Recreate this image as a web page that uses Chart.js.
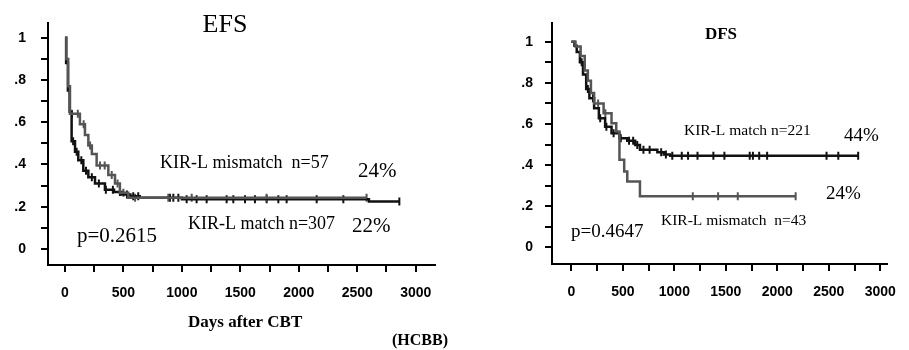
<!DOCTYPE html>
<html>
<head>
<meta charset="utf-8">
<script src="https://cdn.jsdelivr.net/npm/chart.js@4.4.1/dist/chart.umd.min.js"></script>
<style>
  body { margin: 0; background: #fff; }
  #wrap { position: relative; width: 909px; height: 350px; overflow: hidden; }
  canvas { position: absolute; top: 0; }
</style>
</head>
<body>
<div id="wrap">
  <canvas id="efsChart" width="455" height="350" style="left:0"></canvas>
  <canvas id="dfsChart" width="450" height="350" style="left:459px"></canvas>
</div>
<script>
// Axis ticks
const xTickValues = [0, 250, 500, 750, 1000, 1250, 1500, 1750, 2000, 2250, 2500, 2750, 3000];
const xLabelValues = [0, 500, 1000, 1500, 2000, 2500, 3000];
const yTickValues = [0, 0.1, 0.2, 0.3, 0.4, 0.5, 0.6, 0.7, 0.8, 0.9, 1];
const yLabelValues = [0, 0.2, 0.4, 0.6, 0.8, 1];
const yLabels = ['0', '.2', '.4', '.6', '.8', '1'];

// EFS - KIR-L match n=307
const efsMatchDays = [0, 10, 25, 40, 57, 86, 114, 157, 200, 257, 342, 420, 485, 560, 640, 1000, 2600, 2860];
const efsMatchSurv = [1, 0.88, 0.75, 0.65, 0.51, 0.46, 0.42, 0.37, 0.34, 0.31, 0.28, 0.27, 0.258, 0.25, 0.243, 0.235, 0.225, 0.225];
const efsMatchCensor = [70, 100, 140, 180, 230, 290, 350, 410, 470, 530, 584, 627, 898, 927, 970, 1041, 1126, 1212, 1383, 1440, 1540, 1625, 1725, 1825, 1896, 2153, 2381, 2860];

// EFS - KIR-L mismatch n=57
const efsMismatchDays = [0, 12, 28, 43, 128, 171, 200, 230, 271, 371, 428, 470, 541, 2580];
const efsMismatchSurv = [1, 0.9, 0.77, 0.64, 0.59, 0.54, 0.49, 0.45, 0.395, 0.35, 0.31, 0.266, 0.243, 0.243];
const efsMismatchCensor = [60, 110, 160, 215, 300, 340, 400, 450, 500, 600, 884, 1084, 1725, 2580];

// DFS - KIR-L match n=221
const dfsMatchDays = [0, 30, 52, 83, 113, 144, 175, 221, 267, 328, 390, 467, 543, 620, 666, 835, 897, 960, 2785];
const dfsMatchSurv = [1, 0.98, 0.95, 0.9, 0.84, 0.77, 0.725, 0.677, 0.628, 0.587, 0.555, 0.531, 0.518, 0.498, 0.474, 0.463, 0.452, 0.445, 0.445];
const dfsMatchCensor = [100, 160, 210, 280, 340, 410, 480, 560, 600, 640, 700, 760, 872, 918, 980, 1072, 1133, 1225, 1379, 1486, 1732, 1763, 1824, 1901, 2478, 2592, 2785];

// DFS - KIR-L mismatch n=43
const dfsMismatchDays = [0, 40, 90, 130, 160, 190, 221, 313, 390, 436, 467, 513, 543, 666, 2178];
const dfsMismatchSurv = [1, 0.977, 0.93, 0.86, 0.81, 0.75, 0.7, 0.652, 0.604, 0.563, 0.426, 0.369, 0.32, 0.248, 0.248];
const dfsMismatchCensor = [260, 330, 1179, 1425, 1616, 2178];

const MATCH_COLOR = '#111';
const MISMATCH_COLOR = '#555';

// value of the KM step curve at day t
const survAt = (days, surv, t) => {
    let v = surv[0];
    for (let i = 0; i < days.length; i++) {
        if (days[i] <= t) v = surv[i];
    }
    return v;
};

const curve = (days, surv, color) => ({
    data: days.map((d, i) => ({ x: d, y: surv[i] })),
    borderColor: color,
    borderWidth: 2.5,
    stepped: true,
    pointRadius: 0,
    fill: false
});

const censors = (times, days, surv, color) => ({
    data: times.map(t => ({ x: t, y: survAt(days, surv, t) })),
    showLine: false,
    pointStyle: 'line',
    rotation: 90,
    pointRadius: 4,
    borderWidth: 2,
    borderColor: color
});

// draws the free text on the figure
const textPlugin = {
    id: 'figText',
    afterDraw(chart, args, opts) {
        const ctx = chart.ctx;
        ctx.save();
        ctx.fillStyle = '#000';
        ctx.textBaseline = 'alphabetic';
        opts.items.forEach(t => {
            ctx.font = t.font;
            ctx.textAlign = t.align || 'left';
            ctx.fillText(t.text, t.x, t.y);
        });
        ctx.restore();
    }
};

const tickFont = { family: "'Liberation Sans', Arial, sans-serif", size: 14, weight: 'bold' };

const makeChart = (id, cfg) => {
    const ctx = document.getElementById(id).getContext('2d');
    return new Chart(ctx, {
        type: 'line',
        data: { datasets: cfg.datasets },
        options: {
            responsive: false,
            animation: false,
            layout: { padding: cfg.padding },
            plugins: {
                legend: { display: false },
                tooltip: { enabled: false },
                figText: { items: cfg.texts }
            },
            scales: {
                x: {
                    type: 'linear',
                    min: cfg.xMin,
                    max: cfg.xMax,
                    afterBuildTicks: axis => { axis.ticks = xTickValues.map(v => ({ value: v })); },
                    afterFit: scale => { scale.height = cfg.xHeight; },
                    border: { display: true, color: '#000', width: 2 },
                    grid: { display: true, drawOnChartArea: false, drawTicks: true, tickLength: 7, color: '#000', lineWidth: 2 },
                    ticks: {
                        autoSkip: false,
                        maxRotation: 0,
                        padding: cfg.xPad,
                        color: '#000',
                        font: tickFont,
                        callback: v => xLabelValues.includes(v) ? String(v) : ''
                    }
                },
                y: {
                    min: cfg.yMin,
                    max: cfg.yMax,
                    afterBuildTicks: axis => { axis.ticks = yTickValues.map(v => ({ value: v })); },
                    afterFit: scale => { scale.width = cfg.yWidth; },
                    border: { display: true, color: '#000', width: 2 },
                    grid: { display: true, drawOnChartArea: false, drawTicks: true, tickLength: 7, color: '#000', lineWidth: 2 },
                    ticks: {
                        padding: cfg.yPad,
                        color: '#000',
                        font: tickFont,
                        callback: v => {
                            const i = yLabelValues.indexOf(v);
                            return i >= 0 ? yLabels[i] : '';
                        }
                    }
                }
            }
        },
        plugins: [textPlugin]
    });
};

const serif = "'Liberation Serif', 'Times New Roman', serif";

makeChart('efsChart', {
    datasets: [
        curve(efsMismatchDays, efsMismatchSurv, MISMATCH_COLOR),
        curve(efsMatchDays, efsMatchSurv, MATCH_COLOR),
        censors(efsMismatchCensor, efsMismatchDays, efsMismatchSurv, MISMATCH_COLOR),
        censors(efsMatchCensor, efsMatchDays, efsMatchSurv, MATCH_COLOR)
    ],
    padding: { top: 14, right: 20, left: 0, bottom: 0 },
    xMin: -145, xMax: 3165, xHeight: 85, xPad: 13,
    yMin: -0.076, yMax: 1.068, yWidth: 48, yPad: 15,
    texts: [
        { text: 'EFS', x: 225, y: 32, font: `26px ${serif}`, align: 'center' },
        { text: 'KIR-L mismatch  n=57', x: 160, y: 168, font: `18px ${serif}` },
        { text: '24%', x: 358, y: 177, font: `21px ${serif}` },
        { text: 'KIR-L match n=307', x: 188, y: 229, font: `18px ${serif}` },
        { text: '22%', x: 352, y: 232, font: `21px ${serif}` },
        { text: 'p=0.2615', x: 77, y: 242, font: `21px ${serif}` },
        { text: 'Days after CBT', x: 188, y: 327, font: `bold 17px ${serif}` },
        { text: '(HCBB)', x: 392, y: 345, font: `bold 16px ${serif}` }
    ]
});

makeChart('dfsChart', {
    datasets: [
        curve(dfsMismatchDays, dfsMismatchSurv, MISMATCH_COLOR),
        curve(dfsMatchDays, dfsMatchSurv, MATCH_COLOR),
        censors(dfsMismatchCensor, dfsMismatchDays, dfsMismatchSurv, MISMATCH_COLOR),
        censors(dfsMatchCensor, dfsMatchDays, dfsMatchSurv, MATCH_COLOR)
    ],
    padding: { top: 23, right: 4, left: 0, bottom: 0 },
    xMin: -188, xMax: 3063, xHeight: 86, xPad: 13,
    yMin: -0.081, yMax: 1.091, yWidth: 93, yPad: 12,
    texts: [
        { text: 'DFS', x: 262, y: 39, font: `bold 17px ${serif}`, align: 'center' },
        { text: 'KIR-L match n=221', x: 225, y: 135, font: `15.5px ${serif}` },
        { text: '44%', x: 385, y: 141, font: `19px ${serif}` },
        { text: '24%', x: 367, y: 199, font: `19px ${serif}` },
        { text: 'KIR-L mismatch  n=43', x: 202, y: 225, font: `15.5px ${serif}` },
        { text: 'p=0.4647', x: 112, y: 237, font: `19px ${serif}` }
    ]
});
</script>
</body>
</html>
